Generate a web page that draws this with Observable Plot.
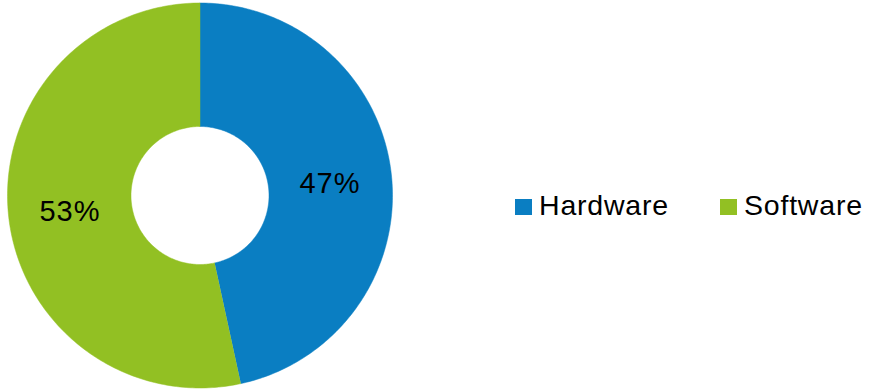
<!DOCTYPE html>
<html>
<head>
<meta charset="utf-8">
<script src="https://cdn.jsdelivr.net/npm/d3@7"></script>
<script src="https://cdn.jsdelivr.net/npm/@observablehq/plot@0.6"></script>
<style>
  html, body { margin: 0; padding: 0; background: #fff; }
  #wrap { position: relative; width: 872px; height: 390px; font-family: "Liberation Sans", Arial, sans-serif; }
  #legend { position: absolute; left: 515px; top: 189px; display: flex; align-items: center; font-size: 28.5px; color: #000; }
  .item { display: flex; align-items: center; margin-right: 51px; }
  .sw { width: 17px; height: 16px; margin-right: 7px; margin-top: 2px; }
  .lbl { letter-spacing: 0.8px; }
</style>
</head>
<body>
<div id="wrap"><div id="chart"></div><div id="legend"></div></div>
<script>
const categories = ["Hardware", "Software"];
const shares = [46.6, 53.4];
const colors = ["#0A7EC2", "#92C023"];

const innerRatio = 69 / 192.5;
const pie = d3.pie().sort(null).value(d => d.value);
const arcs = pie(categories.map((c, i) => ({name: c, value: shares[i]})));

// polygon outlines of each slice, in unit coordinates
const poly = [];
arcs.forEach(a => {
  const n = 200;
  for (let k = 0; k <= n; k++) {
    const t = a.startAngle + (a.endAngle - a.startAngle) * k / n;
    poly.push({name: a.data.name, x: Math.sin(t), y: Math.cos(t)});
  }
  for (let k = n; k >= 0; k--) {
    const t = a.startAngle + (a.endAngle - a.startAngle) * k / n;
    poly.push({name: a.data.name, x: innerRatio * Math.sin(t), y: innerRatio * Math.cos(t)});
  }
});
const labelR = (1 + innerRatio) / 2;
const labels = arcs.map(a => {
  const m = (a.startAngle + a.endAngle) / 2;
  return {name: a.data.name, text: Math.round(a.data.value) + "%", x: labelR * Math.sin(m), y: labelR * Math.cos(m)};
});

const chart = Plot.plot({
  width: 872,
  height: 390,
  margin: 0,
  x: {domain: [-1, 1], range: [7, 392], axis: null},
  y: {domain: [-1, 1], range: [387.5, 2.5], axis: null},
  color: {domain: categories, range: colors},
  style: {fontFamily: "Liberation Sans, Arial, sans-serif", background: "#fff"},
  marks: [
    Plot.line(poly, {x: "x", y: "y", z: "name", fill: "name", stroke: "name", strokeWidth: 0.5}),
    Plot.text(labels, {x: "x", y: "y", text: "text", fontSize: 29, fill: "#000", textAnchor: "middle", lineAnchor: "middle", dy: 2})
  ]
});
chart.querySelectorAll("text").forEach(t => t.setAttribute("letter-spacing", "1"));
document.getElementById("chart").appendChild(chart);

const legend = document.getElementById("legend");
categories.forEach((c, i) => {
  const item = document.createElement("div");
  item.className = "item";
  const sw = document.createElement("div");
  sw.className = "sw";
  sw.style.background = colors[i];
  const lbl = document.createElement("span");
  lbl.className = "lbl";
  lbl.textContent = c;
  item.appendChild(sw);
  item.appendChild(lbl);
  legend.appendChild(item);
});
</script>
</body>
</html>
